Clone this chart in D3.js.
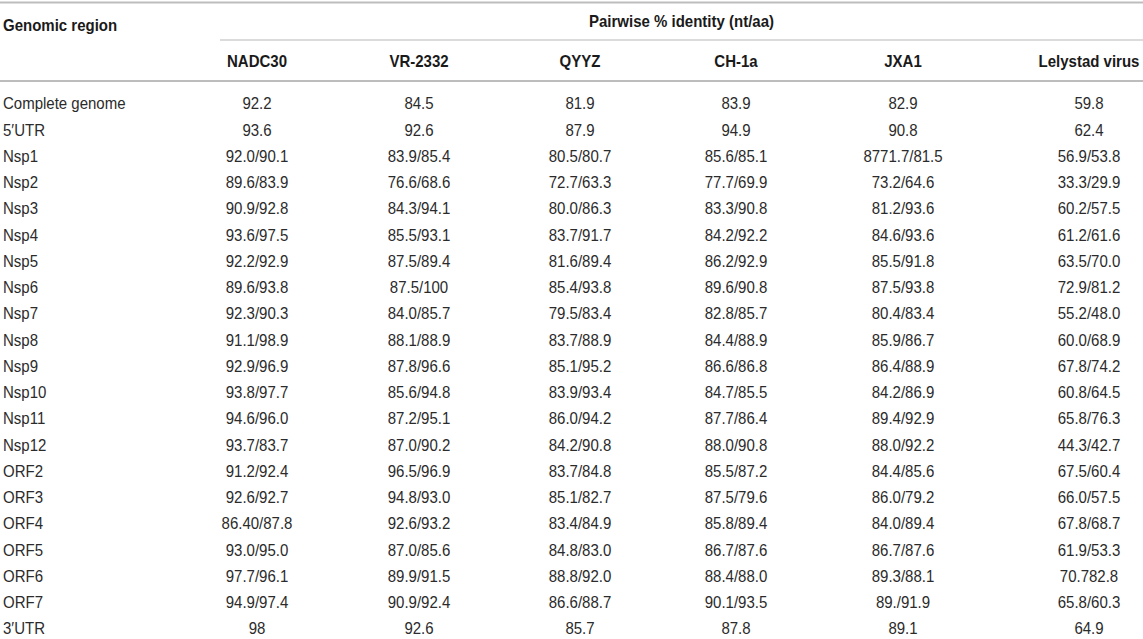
<!DOCTYPE html>
<html>
<head>
<meta charset="utf-8">
<script src="https://cdn.jsdelivr.net/npm/d3@7"></script>
<style>
  body { margin: 0; background: #fff; }
  svg { display: block; font-family: "Liberation Sans", Arial, sans-serif; }
  .cell { font-size: 15px; fill: #2b2b2b; }
  .head { font-size: 15px; font-weight: bold; fill: #1a1a1a; }
</style>
</head>
<body>
<script>
(function() {
    'use strict';

    var regions = ['Complete genome', '5\u2032UTR', 'Nsp1', 'Nsp2', 'Nsp3', 'Nsp4',
        'Nsp5', 'Nsp6', 'Nsp7', 'Nsp8', 'Nsp9', 'Nsp10', 'Nsp11', 'Nsp12',
        'ORF2', 'ORF3', 'ORF4', 'ORF5', 'ORF6', 'ORF7', '3\u2032UTR'];
    var strains = ['NADC30', 'VR-2332', 'QYYZ', 'CH-1a', 'JXA1', 'Lelystad virus'];

    // values as printed (nt/aa), kept as text
    var nadc30 = ['92.2', '93.6', '92.0/90.1', '89.6/83.9', '90.9/92.8', '93.6/97.5',
        '92.2/92.9', '89.6/93.8', '92.3/90.3', '91.1/98.9', '92.9/96.9', '93.8/97.7',
        '94.6/96.0', '93.7/83.7', '91.2/92.4', '92.6/92.7', '86.40/87.8', '93.0/95.0',
        '97.7/96.1', '94.9/97.4', '98'];
    var vr2332 = ['84.5', '92.6', '83.9/85.4', '76.6/68.6', '84.3/94.1', '85.5/93.1',
        '87.5/89.4', '87.5/100', '84.0/85.7', '88.1/88.9', '87.8/96.6', '85.6/94.8',
        '87.2/95.1', '87.0/90.2', '96.5/96.9', '94.8/93.0', '92.6/93.2', '87.0/85.6',
        '89.9/91.5', '90.9/92.4', '92.6'];
    var qyyz = ['81.9', '87.9', '80.5/80.7', '72.7/63.3', '80.0/86.3', '83.7/91.7',
        '81.6/89.4', '85.4/93.8', '79.5/83.4', '83.7/88.9', '85.1/95.2', '83.9/93.4',
        '86.0/94.2', '84.2/90.8', '83.7/84.8', '85.1/82.7', '83.4/84.9', '84.8/83.0',
        '88.8/92.0', '86.6/88.7', '85.7'];
    var ch1a = ['83.9', '94.9', '85.6/85.1', '77.7/69.9', '83.3/90.8', '84.2/92.2',
        '86.2/92.9', '89.6/90.8', '82.8/85.7', '84.4/88.9', '86.6/86.8', '84.7/85.5',
        '87.7/86.4', '88.0/90.8', '85.5/87.2', '87.5/79.6', '85.8/89.4', '86.7/87.6',
        '88.4/88.0', '90.1/93.5', '87.8'];
    var jxa1 = ['82.9', '90.8', '8771.7/81.5', '73.2/64.6', '81.2/93.6', '84.6/93.6',
        '85.5/91.8', '87.5/93.8', '80.4/83.4', '85.9/86.7', '86.4/88.9', '84.2/86.9',
        '89.4/92.9', '88.0/92.2', '84.4/85.6', '86.0/79.2', '84.0/89.4', '86.7/87.6',
        '89.3/88.1', '89./91.9', '89.1'];
    var lelystad = ['59.8', '62.4', '56.9/53.8', '33.3/29.9', '60.2/57.5', '61.2/61.6',
        '63.5/70.0', '72.9/81.2', '55.2/48.0', '60.0/68.9', '67.8/74.2', '60.8/64.5',
        '65.8/76.3', '44.3/42.7', '67.5/60.4', '66.0/57.5', '67.8/68.7', '61.9/53.3',
        '70.782.8', '65.8/60.3', '64.9'];
    var columns = [nadc30, vr2332, qyyz, ch1a, jxa1, lelystad];

    var width = 1143, height = 639;
    var stretch = 1.13;   // the printed table is a little taller than wide
    var svg = d3.select('body').append('svg')
        .attr('width', width)
        .attr('height', height);

    var scale_x = d3.scaleOrdinal()
        .domain(strains)
        .range([257, 419, 580, 736, 903, 1089]);
    var scale_y = d3.scalePoint()
        .domain(regions)
        .range([103.5, 628.5]);

    function place(x, y) {
        return 'translate(' + x + ',' + y + ') scale(1,' + stretch + ')';
    }

    var rule_color = '#bdbdbd';
    svg.append('line')
        .attr('x1', 0).attr('x2', width)
        .attr('y1', 2.5).attr('y2', 2.5)
        .attr('stroke', rule_color).attr('stroke-width', 2);
    svg.append('line')
        .attr('x1', 220).attr('x2', width)
        .attr('y1', 40).attr('y2', 40)
        .attr('stroke', '#cfcfcf').attr('stroke-width', 1.5);
    svg.append('line')
        .attr('x1', 0).attr('x2', width)
        .attr('y1', 81).attr('y2', 81)
        .attr('stroke', rule_color).attr('stroke-width', 2);

    svg.append('text')
        .attr('class', 'head')
        .attr('transform', place(3, 25)).attr('dy', '0.35em')
        .text('Genomic region');
    svg.append('text')
        .attr('class', 'head')
        .attr('transform', place((220 + width) / 2, 21.5)).attr('dy', '0.35em')
        .attr('text-anchor', 'middle')
        .text('Pairwise % identity (nt/aa)');

    svg.append('g')
        .selectAll('text')
        .data(strains)
        .enter()
        .append('text')
        .attr('class', 'head')
        .attr('transform', function(d) {return place(scale_x(d), 61.5);})
        .attr('dy', '0.35em')
        .attr('text-anchor', 'middle')
        .text(function(d) {return d;});

    svg.append('g')
        .selectAll('text')
        .data(regions)
        .enter()
        .append('text')
        .attr('class', 'cell')
        .attr('transform', function(d) {return place(3, scale_y(d));})
        .attr('dy', '0.35em')
        .text(function(d) {return d;});

    var cols = svg.append('g')
        .selectAll('g')
        .data(columns)
        .enter()
        .append('g')
        .attr('transform', function(d, i) {
            return 'translate(' + scale_x(strains[i]) + ',0)';
        });
    cols.selectAll('text')
        .data(function(d) {return d;})
        .enter()
        .append('text')
        .attr('class', 'cell')
        .attr('text-anchor', 'middle')
        .attr('transform', function(d, i) {return place(0, scale_y(regions[i]));})
        .attr('dy', '0.35em')
        .text(function(d) {return d;});
})();
</script>
</body>
</html>
